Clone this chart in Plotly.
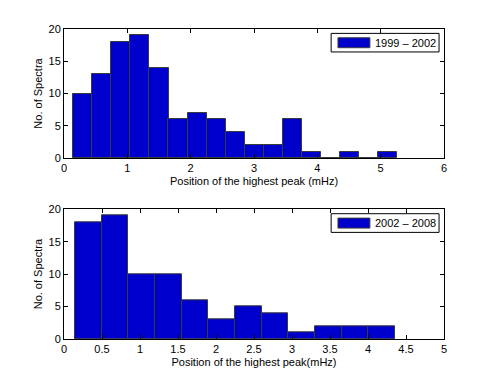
import plotly.graph_objects as go

# bin centres (mHz) and counts
top_centers = [0.297, 0.598, 0.899, 1.199, 1.500, 1.800, 2.101, 2.401, 2.702,
               3.002, 3.303, 3.604, 3.904, 4.205, 4.505, 4.806, 5.106]
top_counts = [10, 13, 18, 19, 14, 6, 7, 6, 4, 2, 2, 6, 1, 0, 1, 0, 1]
top_width = 0.3006
top_label = "1999 – 2002"

bot_centers = [0.3205, 0.6715, 1.0225, 1.3735, 1.7245, 2.0755,
               2.4265, 2.7775, 3.1285, 3.4795, 3.8305, 4.1815]
bot_counts = [18, 19, 10, 10, 6, 3, 5, 4, 1, 2, 2, 2]
bot_width = 0.351
bot_label = "2002 – 2008"

top_xticks = [0, 1, 2, 3, 4, 5, 6]
bot_xticks = [0, 0.5, 1, 1.5, 2, 2.5, 3, 3.5, 4, 4.5, 5]
yticks = [0, 5, 10, 15, 20]

BAR_COLOR = "#0000cc"
EDGE_COLOR = "#3a3a3a"
FONT = dict(family="Liberation Sans, Arial, sans-serif", size=11, color="black")

fig = go.Figure()

fig.add_trace(go.Bar(x=top_centers, y=top_counts, width=top_width,
                     marker=dict(color=BAR_COLOR, line=dict(color=EDGE_COLOR, width=1)),
                     xaxis="x", yaxis="y", showlegend=False))
fig.add_trace(go.Bar(x=bot_centers, y=bot_counts, width=bot_width,
                     marker=dict(color=BAR_COLOR, line=dict(color=EDGE_COLOR, width=1)),
                     xaxis="x2", yaxis="y2", showlegend=False))

W, H = 491, 382
OFF = 8  # page body margin shifts the figure by this much
xdom = [(64 - OFF) / W, (444 - OFF) / W]
top_ydom = [1 - (158 - OFF) / H, 1 - (29 - OFF) / H]
bot_ydom = [1 - (339 - OFF) / H, 1 - (209.3 - OFF) / H]

axis_common = dict(showline=True, linecolor="black", linewidth=1, mirror="ticks",
                   ticks="inside", ticklen=4, tickcolor="black", showgrid=False,
                   zeroline=False, tickfont=FONT, automargin=False)

fig.update_layout(
    width=W, height=H,
    margin=dict(l=0, r=0, t=0, b=0),
    paper_bgcolor="white", plot_bgcolor="white",
    font=FONT,
    bargap=0,
    xaxis=dict(domain=xdom, anchor="y", range=[0, 6], tickvals=top_xticks,
               title=dict(text="Position of the highest peak (mHz)", font=FONT, standoff=4),
               **axis_common),
    yaxis=dict(domain=top_ydom, anchor="x", range=[0, 20], tickvals=yticks,
               title=dict(text="No. of Spectra", font=FONT, standoff=3),
               **axis_common),
    xaxis2=dict(domain=xdom, anchor="y2", range=[0, 5], tickvals=bot_xticks,
                title=dict(text="Position of the highest peak(mHz)", font=FONT, standoff=4),
                **axis_common),
    yaxis2=dict(domain=bot_ydom, anchor="x2", range=[0, 20], tickvals=yticks,
                title=dict(text="No. of Spectra", font=FONT, standoff=3),
                **axis_common),
)

# MATLAB-style legend boxes with a wide patch swatch
for xa, ya, label in [("x", "y", top_label), ("x2", "y2", bot_label)]:
    xr, yr = xa + " domain", ya + " domain"
    fig.add_shape(type="rect", xref=xr, yref=yr, x0=0.703, x1=0.987, y0=0.822, y1=0.966,
                  line=dict(color="black", width=1), fillcolor="white", layer="above")
    fig.add_shape(type="rect", xref=xr, yref=yr, x0=0.721, x1=0.805, y0=0.855, y1=0.932,
                  line=dict(color=EDGE_COLOR, width=1), fillcolor=BAR_COLOR, layer="above")
    fig.add_annotation(xref=xr, yref=yr, x=0.813, y=0.893, text=label, showarrow=False,
                       xanchor="left", yanchor="middle", font=FONT)

fig.write_html("out.html")
